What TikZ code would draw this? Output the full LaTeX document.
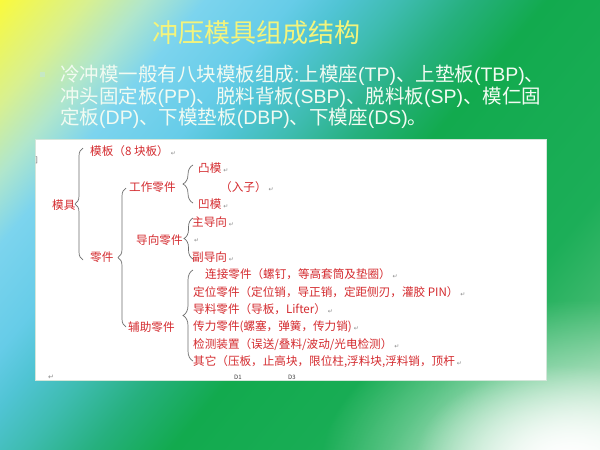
\documentclass[tikz,border=0pt]{standalone}
\usepackage{fontspec}
\setmainfont{Noto Sans CJK SC}
\newfontfamily\symfont{DejaVu Sans}
\newfontfamily\latinfont{Liberation Sans}
\usetikzlibrary{decorations.pathreplacing, fadings}

\definecolor{bgA}{HTML}{FAFA3C}
\definecolor{bgB}{HTML}{D8F090}
\definecolor{bgC}{HTML}{B0E6CC}
\definecolor{bgD}{HTML}{7CD4EE}
\definecolor{bgE}{HTML}{66CCE8}
\definecolor{bgF}{HTML}{50C4D4}
\definecolor{bgG}{HTML}{3EBCB0}
\definecolor{bgH}{HTML}{26B07E}
\definecolor{bgI}{HTML}{12AA4E}
\definecolor{bgJ}{HTML}{1CAE58}
\definecolor{bgK}{HTML}{48BC74}
\definecolor{bgL}{HTML}{80CC98}
\definecolor{titleyellow}{HTML}{F4F47C}
\definecolor{bodywhite}{HTML}{F2FBF2}
\definecolor{bulletgreen}{HTML}{C6E8C4}
\definecolor{partred}{HTML}{D42A2E}
\definecolor{bracegray}{HTML}{6E6E6E}
\definecolor{markgray}{HTML}{8A8A8A}
\definecolor{panelborder}{HTML}{D4E6DA}

\pgfdeclarehorizontalshading{slidebg}{100bp}{color(0bp)=(bgA); color(25bp)=(bgA);
  color(29.5bp)=(bgB); color(32.5bp)=(bgC); color(35.5bp)=(bgD); color(40bp)=(bgE);
  color(42.5bp)=(bgF); color(45.5bp)=(bgG); color(49bp)=(bgH); color(53bp)=(bgI);
  color(64bp)=(bgJ); color(70bp)=(bgK); color(75bp)=(bgL); color(100bp)=(bgL)}

\tikzfading[name=softglow, inner color=transparent!0, outer color=transparent!100]

\newcommand{\retmark}{\,{\symfont\fontsize{6}{6}\selectfont\color{markgray}↵}}
\newcommand{\lat}[1]{{\latinfont #1}}

\tikzset{
  part/.style={anchor=west, inner sep=0pt, text=partred, font=\fontsize{11.6}{12}\selectfont},
  bodyline/.style={anchor=west, inner sep=0pt, text=bodywhite, font=\fontsize{19.5}{21}\selectfont},
  partbrace/.style={draw=bracegray, line width=0.7pt, decorate, decoration={brace, amplitude=#1}},
  smallmark/.style={anchor=west, inner sep=0pt, text=markgray, font=\fontsize{6}{6}\selectfont}
}

\begin{document}
\begin{tikzpicture}[x=1pt, y=-1pt]

        \useasboundingbox (0,0) rectangle (600,450);

        % Slide background
        \begin{scope}
          \clip (0,0) rectangle (600,450);
          \begin{scope}[transform canvas={rotate around={-40:(300,225)}}]
            \shade[shading=slidebg] (-75,-150) rectangle (675,600);
          \end{scope}
          % white glow in the lower right corner
          \fill[white, path fading=softglow] (580,470) ellipse (260 and 170);
          \fill[white, path fading=softglow] (565,460) ellipse (150 and 95);
        \end{scope}

        % Title and bullet text
        \node[inner sep=0pt, text=titleyellow, font=\fontsize{26}{28}\selectfont] (title) at (256,33) {冲压模具组成结构};
        \node[fill=bulletgreen, minimum size=5pt, inner sep=0pt] (bullet) at (42,74) {};
        \node[bodyline] (body1) at (60,75)  {冷冲模一般有八块模板组成\lat{:}上模座\lat{(TP)}、上垫板\lat{(TBP)}、};
        \node[bodyline] (body2) at (60,97)  {冲头固定板\lat{(PP)}、脱料背板\lat{(SBP)}、脱料板\lat{(SP)}、模仁固};
        \node[bodyline] (body3) at (60,118) {定板\lat{(DP)}、下模垫板\lat{(DBP)}、下模座\lat{(DS)}。};

        % Pasted panel
        \draw[panelborder, fill=white] (35,139) rectangle (546,380);
        \node[smallmark, font=\fontsize{7}{7}\selectfont, text=darkgray] (edgemark) at (35.5,160) {]};

        % Level 1
        \node[part] (moju) at (52,205) {模具};
        \node[part] (muban) at (90,151) {模板（8 块板）\retmark};
        \node[part] (lingjian) at (90,257) {零件};

        % Level 2
        \node[part] (gongzuo) at (129,187) {工作零件};
        \node[part] (daoxiang) at (136,240) {导向零件};
        \node[part] (fuzhu) at (128,327) {辅助零件};

        % Working parts
        \node[part] (tumo) at (198,168) {凸模\retmark};
        \node[part] (ruzi) at (220,187) {（入子）\retmark};
        \node[part] (aomo) at (198,204) {凹模\retmark};

        % Guiding parts
        \node[part] (zhudao) at (192,222) {主导向\retmark};
        \node[part] (kongdao) at (192,241) {\retmark};
        \node[part] (fudao) at (192,257) {副导向\retmark};

        % Auxiliary parts
        \node[part] (lianjie) at (205,274) {连接零件（螺钉，等高套筒及垫圈）\retmark};
        \node[part] (dingwei) at (193,292) {定位零件（定位销，导正销，定距侧刃，灌胶 PIN）\retmark};
        \node[part] (daoliao) at (193,309) {导料零件（导板，Lifter）\retmark};
        \node[part] (chuanli) at (193,327) {传力零件(螺塞，弹簧，传力销)\retmark};
        \node[part] (jiance) at (193,345) {检测装置（误送/叠料/波动/光电检测）\retmark};
        \node[part] (qita) at (193,362) {其它（压板，止高块，限位柱,浮料块,浮料销，顶杆\retmark};

        % Footer marks
        \node[smallmark, font=\fontsize{7}{7}\selectfont] (endmark) at (48,377) {\symfont↵};
        \node[smallmark, text=darkgray] (dA) at (234,377) {D1};
        \node[smallmark, text=darkgray] (dC) at (288,377) {D3};

        % Brace ends
        \coordinate (mojuTop) at (83,148);
        \coordinate (mojuBot) at (83,260);
        \coordinate (lingTop) at (126,188);
        \coordinate (lingBot) at (126,327);
        \coordinate (gongTop) at (193,165);
        \coordinate (gongBot) at (193,203);
        \coordinate (daoTop) at (193,218);
        \coordinate (daoBot) at (193,259);
        \coordinate (fuTop) at (193,270);
        \coordinate (fuBot) at (193,361);

        % Braces
        \draw[partbrace=8pt] (mojuBot) -- (mojuTop);
        \draw[partbrace=8pt] (lingBot) -- (lingTop);
        \draw[partbrace=10pt] (gongBot) -- (gongTop);
        \draw[partbrace=9pt] (daoBot) -- (daoTop);
        \draw[partbrace=10pt] (fuBot) -- (fuTop);

    \end{tikzpicture}
\end{document}
